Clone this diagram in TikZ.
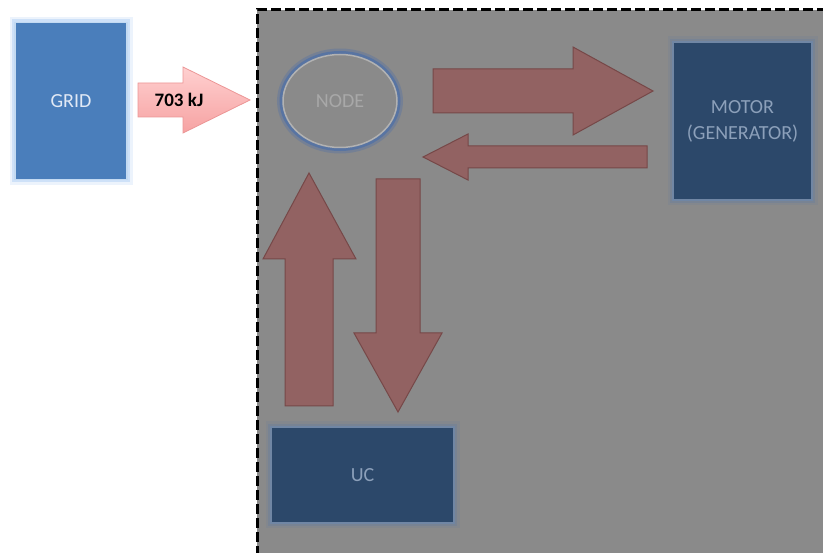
\documentclass[tikz,border=0pt]{standalone}
\usepackage{fontspec}
\setmainfont{Carlito}
\usetikzlibrary{shapes.geometric}

\definecolor{bggray}{RGB}{138,138,138}
\definecolor{gridblue}{RGB}{74,126,187}
\definecolor{gridglow}{RGB}{150,190,240}
\definecolor{gridline}{RGB}{195,218,242}
\definecolor{gridtext}{RGB}{225,233,245}
\definecolor{darkblue}{RGB}{44,72,106}
\definecolor{darkline}{RGB}{112,134,164}
\definecolor{darkglow}{RGB}{100,125,160}
\definecolor{darktext}{RGB}{140,160,186}
\definecolor{nodeglow}{RGB}{70,108,172}
\definecolor{nodeline}{RGB}{178,178,178}
\definecolor{nodetext}{RGB}{168,168,168}
\definecolor{flowfill}{RGB}{146,98,98}
\definecolor{flowline}{RGB}{118,72,72}
\definecolor{pinktop}{RGB}{255,208,208}
\definecolor{pinkbot}{RGB}{246,162,162}
\definecolor{pinkline}{RGB}{236,150,150}

\tikzset{
  glow/.style={preaction={draw=#1,line width=11pt,opacity=.18},
               preaction={draw=#1,line width=6pt,opacity=.35}},
  strongglow/.style={preaction={draw=#1,line width=12pt,opacity=.3},
               preaction={draw=#1,line width=7pt,opacity=.6}},
  gridbox/.style={rectangle, fill=gridblue, draw=gridline, line width=1.5pt,
                  glow=gridglow, text=gridtext, font=\fontsize{20}{24}\selectfont},
  darkbox/.style={rectangle, fill=darkblue, draw=darkline, line width=1.5pt,
                  glow=darkglow, text=darktext, align=center,
                  font=\fontsize{20}{26}\selectfont},
  flow/.style={fill=flowfill, draw=flowline, line width=1pt, line join=miter},
}

\begin{document}
\begin{tikzpicture}[x=1pt, y=-1pt]
\useasboundingbox (0,0) rectangle (823,553);
\clip (0,0) rectangle (823,553);

\fill[bggray] (257,10) rectangle (840,570);
\draw[line width=3pt, dash pattern=on 10pt off 4pt] (257,570) -- (257,10) -- (840,10);

\node[gridbox, minimum width=112pt, minimum height=157pt] (grid) at (71,101) {GRID};

\draw[pinkline, line width=.8pt, top color=pinktop, bottom color=pinkbot, line join=miter]
  (138,83) -- (183,83) -- (183,67) -- (250,100) -- (183,133) -- (183,117) -- (138,117) -- cycle;
\node[font=\bfseries\fontsize{19}{22}\selectfont] (energy) at (179,100) {703 kJ};

\node[ellipse, fill=bggray, draw=nodeline, line width=1.5pt, strongglow=nodeglow,
      minimum width=114pt, minimum height=93pt, text=nodetext,
      font=\fontsize{20}{24}\selectfont] (node) at (340,101) {NODE};

\node[darkbox, minimum width=139pt, minimum height=158pt] (motor) at (742.5,121) {MOTOR\\(GENERATOR)};
\node[darkbox, minimum width=183pt, minimum height=96pt] (uc) at (362.5,475) {UC};

\draw[flow] (433,69) -- (573,69) -- (573,47) -- (653,91) -- (573,135) -- (573,113) -- (433,113) -- cycle;
\draw[flow] (647,146) -- (468,146) -- (468,134) -- (423,157) -- (468,180) -- (468,168) -- (647,168) -- cycle;
\draw[flow] (285,406) -- (285,259) -- (263,259) -- (309,173) -- (356,259) -- (333,259) -- (333,406) -- cycle;
\draw[flow] (376,179) -- (420,179) -- (420,333) -- (442,333) -- (398,412) -- (354,333) -- (376,333) -- cycle;
\end{tikzpicture}
\end{document}
